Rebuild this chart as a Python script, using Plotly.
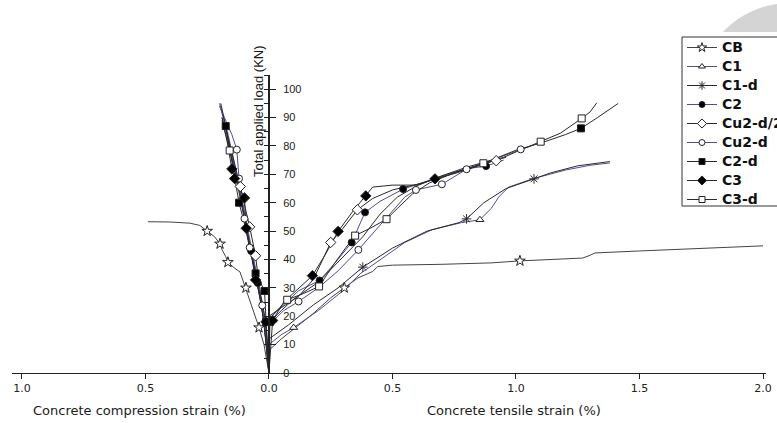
import math
import plotly.graph_objects as go

# ---------------- data (strain in %, load in kN) ----------------
series_names = ["CB", "C1", "C1-d", "C2", "Cu2-d/2", "Cu2-d", "C2-d", "C3", "C3-d"]

# compression side (negative strain)
cb_cx = [0, -0.02, -0.04, -0.06, -0.08, -0.093, -0.105, -0.117, -0.14, -0.166, -0.175, -0.19, -0.198, -0.22, -0.25, -0.28, -0.32, -0.40, -0.49]
cb_cy = [0, 10, 16, 21, 26, 30, 33, 35.6, 37, 39, 41, 43.5, 45.5, 48, 50, 52, 52.8, 53.2, 53.3]
cb_cm = [2, 5, 9, 12, 14]

c1_cx = [0, -0.006, -0.016, -0.028, -0.05, -0.072, -0.095, -0.118, -0.142, -0.168, -0.197]
c1_cy = [0, 10, 18, 25, 35, 45, 55, 65, 75, 85, 94]
c1_cm = []

c1d_cx = [0, -0.01, -0.02, -0.033, -0.055, -0.078, -0.1, -0.124, -0.148, -0.172, -0.19]
c1d_cy = [0, 10, 18, 25, 35, 45, 55, 65, 75, 85, 90]
c1d_cm = []

c2_cx = [0, -0.008, -0.02, -0.03, -0.045, -0.072, -0.09, -0.112, -0.135, -0.16, -0.185, -0.2]
c2_cy = [0, 9, 17, 24, 31.7, 43, 52, 62, 71, 81, 90, 95]
c2_cm = [4, 5]

cu2h_cx = [0, -0.01, -0.02, -0.035, -0.054, -0.078, -0.095, -0.116, -0.14, -0.158, -0.18]
cu2h_cy = [0, 10, 18, 27, 41.3, 51.5, 58, 65.7, 74, 80, 88]
cu2h_cm = [4, 5, 7]

cu2_cx = [0, -0.01, -0.027, -0.045, -0.065, -0.078, -0.099, -0.121, -0.13, -0.15, -0.18, -0.2]
cu2_cy = [0, 12, 23.8, 33, 40, 44.2, 54.4, 68.5, 78.7, 84, 90, 94]
cu2_cm = [2, 5, 6, 7, 8]

c2d_cx = [0, -0.006, -0.012, -0.018, -0.035, -0.054, -0.08, -0.1, -0.121, -0.14, -0.16, -0.175, -0.195]
c2d_cy = [0, 10, 18, 28.9, 32, 35.1, 45, 53, 60, 70, 79, 87, 95]
c2d_cm = [2, 3, 5, 8, 11]

c3_cx = [0, -0.006, -0.012, -0.03, -0.054, -0.072, -0.092, -0.099, -0.12, -0.139, -0.15, -0.17, -0.19]
c3_cy = [0, 9, 18, 26, 32.8, 42, 51, 61.7, 65, 68.5, 71.9, 82, 90]
c3_cm = [2, 4, 6, 7, 9, 10]

c3d_cx = [0, -0.01, -0.022, -0.04, -0.06, -0.085, -0.105, -0.128, -0.159, -0.175, -0.19]
c3d_cy = [0, 10, 19, 28, 37, 48, 58, 68, 78.4, 84, 89]
c3d_cm = [8]

# tensile side (positive strain)
cb_tx = [0, 0.0, 0.05, 0.1, 0.18, 0.25, 0.305, 0.36, 0.40, 0.42, 0.44, 0.5, 0.7, 0.9, 1.016, 1.15, 1.27, 1.3, 1.32, 1.5, 1.75, 2.0]
cb_ty = [0, 8, 12, 15.5, 21, 26.5, 30, 33.5, 35, 35.8, 37.5, 38, 38.3, 38.8, 39.5, 40, 40.5, 41.5, 42.3, 43, 44, 44.8]
cb_tm = [6, 14]

c1_tx = [0, 0.0, 0.05, 0.1, 0.2, 0.3, 0.37, 0.45, 0.55, 0.66, 0.78, 0.854, 0.9, 0.93, 0.97, 1.07, 1.2, 1.3, 1.38]
c1_ty = [0, 10, 13.5, 16, 22, 29, 35, 40, 46, 50.5, 53, 54, 58, 62, 65.5, 68.5, 71.5, 73.2, 74]
c1_tm = [3, 11]

c1d_tx = [0, 0.0, 0.08, 0.18, 0.28, 0.38, 0.5, 0.64, 0.77, 0.80, 0.87, 0.96, 1.073, 1.14, 1.25, 1.38]
c1d_ty = [0, 12, 17, 24, 30, 37.3, 44, 50, 53, 54.3, 60, 65, 68.4, 70.5, 73, 74.5]
c1d_tm = [5, 9, 12]

c2_tx = [0, 0.0, 0.06, 0.12, 0.205, 0.27, 0.335, 0.389, 0.45, 0.543, 0.62, 0.72, 0.8, 0.879, 0.95]
c2_ty = [0, 19, 24, 29, 32.6, 39, 46, 56.6, 60.5, 64.8, 67, 70, 72, 72.9, 75]
c2_tm = [4, 6, 7, 9, 13]

cu2h_tx = [0, 0.0, 0.05, 0.12, 0.18, 0.25, 0.3, 0.358, 0.42, 0.5, 0.6, 0.7, 0.8, 0.92, 0.96]
cu2h_ty = [0, 20, 23, 27, 33, 46, 51, 57.5, 61.5, 64.5, 66.5, 69, 72, 74.8, 76]
cu2h_tm = [5, 7, 13]

cu2_tx = [0, 0.0, 0.06, 0.12, 0.2, 0.28, 0.362, 0.43, 0.5, 0.55, 0.595, 0.70, 0.80, 0.9, 1.019, 1.06]
cu2_ty = [0, 17, 22, 25.2, 30, 36, 43.4, 50, 57, 62, 64.5, 66.5, 71.8, 75, 78.8, 80]
cu2_tm = [3, 6, 10, 11, 12, 14]

c2d_tx = [0, 0.004, 0.05, 0.1, 0.2, 0.3, 0.38, 0.45, 0.52, 0.6, 0.7, 0.8, 0.9, 1.0, 1.1, 1.2, 1.263, 1.33, 1.414]
c2d_ty = [0, 18, 22, 26, 32, 41, 48, 56, 62, 66, 69.5, 72.5, 75, 78.5, 81, 84, 86.2, 90, 95]
c2d_tm = [1, 16]

c3_tx = [0, 0.015, 0.06, 0.12, 0.176, 0.23, 0.28, 0.34, 0.392, 0.42, 0.5, 0.6, 0.672, 0.76, 0.85, 0.9]
c3_ty = [0, 18.5, 25, 30, 34.3, 42, 49.9, 57, 62.4, 65.5, 66.2, 66.2, 68.4, 70.5, 73, 74.5]
c3_tm = [1, 4, 6, 8, 12]

c3d_tx = [0, 0.0, 0.074, 0.14, 0.203, 0.26, 0.31, 0.349, 0.41, 0.476, 0.52, 0.58, 0.65, 0.75, 0.868, 0.95, 1.03, 1.10, 1.18, 1.266, 1.30, 1.327]
c3d_ty = [0, 19, 25.8, 28, 30.5, 38, 44, 48.4, 51, 54.2, 58, 63, 67, 70.5, 73.9, 76, 79, 81.5, 84.5, 89.7, 92, 95.2]
c3d_tm = [2, 4, 7, 9, 14, 17, 19]

x_tick_vals = [-1.0, -0.5, 0.0, 0.5, 1.0, 1.5, 2.0]
x_tick_text = ["1.0", "0.5", "0.0", "0.5", "1.0", "1.5", "2.0"]
y_tick_vals = [0, 10, 20, 30, 40, 50, 60, 70, 80, 90, 100]

# ---------------- styles ----------------
PURPLE = "#514d9c"
DARK = "#2a2a2a"
styles = {
    "CB":      dict(symbol="star", fill="white", color="#444444", size=8),
    "C1":      dict(symbol="triangle-up", fill="white", color=PURPLE, size=7),
    "C1-d":    dict(symbol="asterisk-open", fill=DARK, color=DARK, size=8),
    "C2":      dict(symbol="circle", fill="black", color=PURPLE, size=7),
    "Cu2-d/2": dict(symbol="diamond", fill="white", color=DARK, size=8),
    "Cu2-d":   dict(symbol="circle", fill="white", color=PURPLE, size=7),
    "C2-d":    dict(symbol="square", fill="black", color=DARK, size=7),
    "C3":      dict(symbol="diamond", fill="black", color=DARK, size=8),
    "C3-d":    dict(symbol="square", fill="white", color=DARK, size=7),
}

data = {
    "CB": (cb_cx, cb_cy, cb_cm, cb_tx, cb_ty, cb_tm),
    "C1": (c1_cx, c1_cy, c1_cm, c1_tx, c1_ty, c1_tm),
    "C1-d": (c1d_cx, c1d_cy, c1d_cm, c1d_tx, c1d_ty, c1d_tm),
    "C2": (c2_cx, c2_cy, c2_cm, c2_tx, c2_ty, c2_tm),
    "Cu2-d/2": (cu2h_cx, cu2h_cy, cu2h_cm, cu2h_tx, cu2h_ty, cu2h_tm),
    "Cu2-d": (cu2_cx, cu2_cy, cu2_cm, cu2_tx, cu2_ty, cu2_tm),
    "C2-d": (c2d_cx, c2d_cy, c2d_cm, c2d_tx, c2d_ty, c2d_tm),
    "C3": (c3_cx, c3_cy, c3_cm, c3_tx, c3_ty, c3_tm),
    "C3-d": (c3d_cx, c3d_cy, c3d_cm, c3d_tx, c3d_ty, c3d_tm),
}

fig = go.Figure()

# lines
for name in series_names:
    cx, cy, cm, tx, ty, tm = data[name]
    st = styles[name]
    fig.add_trace(go.Scatter(x=cx + [None] + tx, y=cy + [None] + ty, mode="lines",
                             line=dict(color=st["color"], width=1), showlegend=False,
                             hoverinfo="skip", legendgroup=name))

# markers
for name in series_names:
    cx, cy, cm, tx, ty, tm = data[name]
    st = styles[name]
    mx = [cx[i] for i in cm] + [tx[i] for i in tm]
    my = [cy[i] for i in cm] + [ty[i] for i in tm]
    fig.add_trace(go.Scatter(x=mx, y=my, mode="markers", showlegend=False, legendgroup=name,
                             marker=dict(symbol=st["symbol"], size=st["size"], color=st["fill"],
                                         line=dict(color="#222222", width=1))))

# legend entries
LEG_FONT = "DejaVu Sans, Arial, sans-serif"
for name in series_names:
    st = styles[name]
    fig.add_trace(go.Scatter(x=[None], y=[None], mode="lines+markers",
                             name="<span style='font-size:14px'><b>%s</b></span>" % name,
                             legendgroup=name,
                             line=dict(color=st["color"], width=1),
                             marker=dict(symbol=st["symbol"], size=st["size"] - 1, color=st["fill"],
                                         line=dict(color="#222222", width=1))))

# ---------------- layout ----------------
W, H = 777, 423
PL, PR, PT, PB = 12, 766, 75, 373          # plot area in window pixels
ML, MR, MT, MB = PL, W - PR, PT, H - PB
XR = [-1.04, 2.012]
YR = [0, 105]


def px_to_paper_x(px):
    return (px - PL) / (PR - PL)


def px_to_paper_y(py):
    return (PB - py) / (PB - PT)


y_pos = (0 - XR[0]) / (XR[1] - XR[0])
FONT_W = "DejaVu Sans, Arial, sans-serif"
FONT_N = "Liberation Sans, Arial, sans-serif"

LEG_L, LEG_T, BOX_T, BOX_B = 682, 33, 37, 206

fig.update_layout(
    width=W, height=H,
    margin=dict(l=ML, r=MR, t=MT, b=MB, autoexpand=False),
    paper_bgcolor="white", plot_bgcolor="white",
    font=dict(family=FONT_W, color="#1a1a1a"),
    xaxis=dict(range=XR, showgrid=False, zeroline=False, showline=True, linecolor="#222",
               linewidth=1, ticks="outside", ticklen=5, tickcolor="#222", color="#222",
               tickvals=x_tick_vals, ticktext=x_tick_text,
               tickfont=dict(size=11, family=FONT_W, color="#222")),
    yaxis=dict(range=YR, anchor="free", position=y_pos, side="right", showgrid=False,
               zeroline=False, showline=True, linecolor="#222", linewidth=2, color="#222",
               ticks="outside", ticklen=6, tickcolor="#222", tickvals=y_tick_vals,
               ticklabelstandoff=5,
               minor=dict(ticks="inside", ticklen=4, dtick=5, tickcolor="#222"),
               tickfont=dict(size=11, family=FONT_N, color="#222")),
    legend=dict(x=px_to_paper_x(LEG_L), y=px_to_paper_y(LEG_T), xanchor="left", yanchor="top",
                borderwidth=0, bgcolor="rgba(0,0,0,0)",
                font=dict(size=11.5, family=LEG_FONT, color="#111"),
                itemwidth=30, tracegroupgap=0),
    showlegend=True,
)

# legend frame whose right side runs off the picture, as in the source figure
fig.add_shape(type="rect", xref="paper", yref="paper",
              x0=px_to_paper_x(LEG_L), x1=px_to_paper_x(820),
              y0=px_to_paper_y(BOX_B), y1=px_to_paper_y(BOX_T),
              line=dict(color="#333", width=1), fillcolor="white", layer="above")

fig.add_annotation(text="Concrete compression strain (%)", xref="paper", yref="paper",
                   x=px_to_paper_x(139), y=px_to_paper_y(410), xanchor="center", yanchor="middle",
                   showarrow=False, font=dict(size=13, family=FONT_W, color="#1a1a1a"))
fig.add_annotation(text="Concrete tensile strain (%)", xref="paper", yref="paper",
                   x=px_to_paper_x(514), y=px_to_paper_y(410), xanchor="center", yanchor="middle",
                   showarrow=False, font=dict(size=13, family=FONT_W, color="#1a1a1a"))
fig.add_annotation(text="Total applied load (KN)", xref="paper", yref="paper",
                   x=px_to_paper_x(258), y=px_to_paper_y(111), xanchor="center", yanchor="middle",
                   textangle=-90, showarrow=False,
                   font=dict(size=13, family=FONT_N, color="#1a1a1a"))

# light grey disc fragment in the top-right corner of the picture
cxp, cyp, rr = 790, 95, 92
path = "M %f,%f " % (px_to_paper_x(723), px_to_paper_y(32))
for k in range(0, 41):
    ang = math.radians(223 + k * 47 / 40)
    px = cxp + rr * math.cos(ang)
    py = cyp + rr * math.sin(ang)
    if py <= 32:
        path += "L %f,%f " % (px_to_paper_x(px), px_to_paper_y(py))
path += "L %f,%f L %f,%f Z" % (px_to_paper_x(800), px_to_paper_y(-10), px_to_paper_x(800), px_to_paper_y(32))
fig.add_shape(type="path", path=path, xref="paper", yref="paper", fillcolor="#d4d4d4",
              line=dict(width=0), layer="below")

# remove the browser's default 8 px page margin so the figure fills the window exactly
fig.write_html("out.html", config={"displayModeBar": False},
               post_script="document.body.style.margin='0';document.body.style.overflow='hidden';")
